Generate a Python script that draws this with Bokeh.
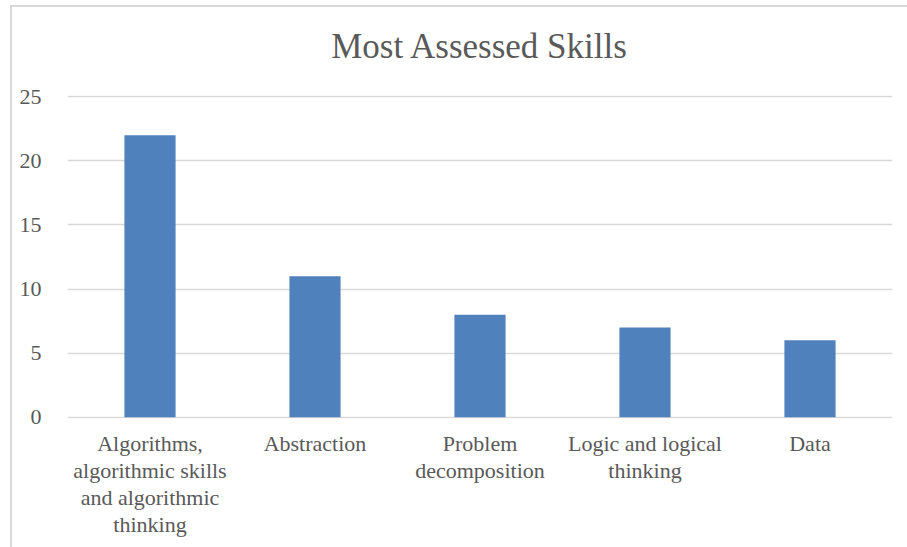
from bokeh.plotting import figure
from bokeh.models import FactorRange, Range1d, ColumnDataSource, FixedTicker, Title
from bokeh.embed import file_html
from bokeh.resources import INLINE

# Skills and how many studies assessed each one
skills = [
    "Algorithms,\nalgorithmic skills\nand algorithmic\nthinking",
    "Abstraction",
    "Problem\ndecomposition",
    "Logic and logical\nthinking",
    "Data",
]
counts = [22, 11, 8, 7, 6]
y_ticks = [0, 5, 10, 15, 20, 25]
chart_title = "Most Assessed Skills"

TEXT = "#595959"
GRID = "#D9D9D9"
BAR = "#4F81BD"
FONT = "Liberation Serif"

source = ColumnDataSource(data=dict(skill=skills, count=counts))

p = figure(
    width=897, height=542,
    x_range=FactorRange(factors=skills, range_padding=0),
    y_range=Range1d(-0.1, 25.1),
    output_backend="svg", toolbar_location=None,
    min_border_left=55, min_border_right=17,
    min_border_top=88, min_border_bottom=131,
)
p.margin = (5, 0, 0, 10)
p.styles = {"border-top": "2px solid #D9D9D9", "border-left": "2px solid #D9D9D9"}

p.vbar(x="skill", top="count", width=0.31, source=source,
       fill_color=BAR, line_color=None)

p.title.text = chart_title
p.title.align = "center"
p.title.text_font = FONT
p.title.text_font_size = "35px"
p.title.text_font_style = "normal"
p.title.text_color = TEXT
p.title.standoff = 33

# thin blank band between the heading and the plot area
p.add_layout(Title(text=" ", text_font_size="10px", standoff=0), "above")

p.outline_line_color = None
p.background_fill_color = "white"
p.border_fill_color = "white"

p.xgrid.grid_line_color = None
p.ygrid.grid_line_color = GRID
p.ygrid.grid_line_width = 1.5

p.yaxis.ticker = FixedTicker(ticks=y_ticks)
p.yaxis.axis_line_color = None
p.yaxis.major_tick_line_color = None
p.yaxis.minor_tick_line_color = None
p.yaxis.major_label_standoff = 20
p.yaxis.major_label_text_font = FONT
p.yaxis.major_label_text_font_size = "22px"
p.yaxis.major_label_text_color = TEXT

p.xaxis.axis_line_color = None
p.xaxis.major_tick_line_color = None
p.xaxis.minor_tick_line_color = None
p.xaxis.major_label_standoff = 6
p.xaxis.major_label_text_font = FONT
p.xaxis.major_label_text_font_size = "22px"
p.xaxis.major_label_text_color = TEXT
p.xaxis.major_label_text_line_height = 1.08

open("out.html", "w").write(file_html(p, INLINE))
